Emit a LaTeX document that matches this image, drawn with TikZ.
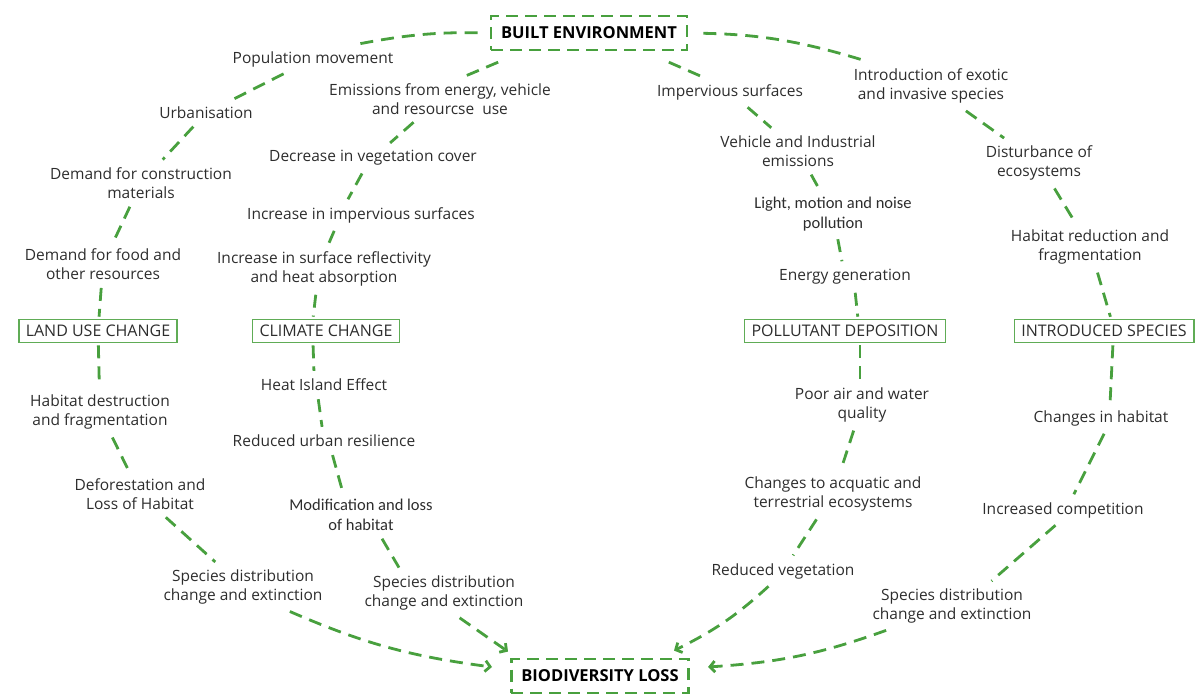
\documentclass[tikz,border=0pt]{standalone}
\usepackage{fontspec}
\setmainfont{Open Sans}
\newfontfamily\calfont{Carlito}
\usetikzlibrary{arrows.meta}
\definecolor{linkgreen}{RGB}{72,160,62}
\definecolor{boxgreen}{RGB}{96,172,86}
\definecolor{txtgray}{RGB}{45,45,45}

\begin{document}
\begin{tikzpicture}[x=1pt, y=-1pt,
  lbl/.style={text=txtgray, align=center, inner xsep=2pt, inner ysep=6pt, font=\fontsize{15.5}{19.5}\selectfont},
  cal/.style={lbl, font=\calfont\fontsize{16.5}{20}\selectfont},
  cat/.style={draw=boxgreen, line width=1.6pt, text=txtgray, inner xsep=7pt, inner ysep=2pt, minimum height=23pt, font=\fontsize{16}{18}\selectfont},
  hub/.style={draw=linkgreen, line width=2.8pt, dash pattern=on 12pt off 7pt, text=black, inner xsep=10pt, minimum height=34pt, font=\bfseries\fontsize{16.5}{18}\selectfont},
  link/.style={draw=linkgreen, line width=2.8pt, dash pattern=on 13pt off 8pt, shorten <=2pt, shorten >=2pt},
  arr/.style={link, shorten >=0pt, -{Straight Barb[length=5pt, width=11pt]}}
]
\useasboundingbox (0,0) rectangle (1200,695);

% Hubs
\node[hub] (be) at (589,33) {BUILT ENVIRONMENT};
\node[hub] (bio) at (600,676) {BIODIVERSITY LOSS};

% Categories
\node[cat] (luc) at (98,331) {LAND USE CHANGE};
\node[cat] (clc) at (326,331) {CLIMATE CHANGE};
\node[cat] (pod) at (845,331) {POLLUTANT DEPOSITION};
\node[cat] (ins) at (1104,331) {INTRODUCED SPECIES};

% Land use chain
\node[lbl] (pop) at (313,59) {Population movement};
\node[lbl] (urb) at (206,113) {Urbanisation};
\node[lbl] (dcm) at (141,183) {Demand for construction\\materials};
\node[lbl] (dfo) at (103,264) {Demand for food and\\other resources};
\node[lbl] (hdf) at (100,412) {Habitat destruction\\and fragmentation};
\node[lbl] (dlh) at (140,494) {Deforestation and\\Loss of Habitat};
\node[lbl] (spl) at (243,587) {Species distribution\\change and extinction};

% Climate chain
\node[lbl] (emi) at (440,99) {Emissions from energy, vehicle\\and resourcse\ \ use};
\node[lbl] (dvc) at (373,158) {Decrease in vegetation cover};
\node[lbl] (iis) at (361,215) {Increase in impervious surfaces};
\node[lbl] (isr) at (324,269) {Increase in surface reflectivity\\and heat absorption};
\node[lbl] (hie) at (324,385) {Heat Island Effect};
\node[lbl] (rur) at (324,441) {Reduced urban resilience};
\node[cal] (mlh) at (361,515) {Modification and loss\\of habitat};
\node[lbl] (spm) at (444,593) {Species distribution\\change and extinction};

% Pollutant chain
\node[lbl] (imp) at (730,92) {Impervious surfaces};
\node[lbl] (vie) at (798,151) {Vehicle and Industrial\\emissions};
\node[cal] (lmn) at (833,214) {Light, motion and noise\\pollution};
\node[lbl] (eng) at (845,277) {Energy generation};
\node[lbl] (paw) at (862,405) {Poor air and water\\quality};
\node[lbl] (cae) at (833,494) {Changes to acquatic and\\terrestrial ecosystems};
\node[lbl] (rve) at (783,571) {Reduced vegetation};

% Introduced species chain
\node[lbl] (iei) at (931,86) {Introduction of exotic\\and invasive species};
\node[lbl] (doe) at (1039,163) {Disturbance of\\ecosystems};
\node[lbl] (hrf) at (1090,247) {Habitat reduction and\\fragmentation};
\node[lbl] (chh) at (1101,418) {Changes in habitat};
\node[lbl] (inc) at (1063,510) {Increased competition};
\node[lbl] (spr) at (952,606) {Species distribution\\change and extinction};

% Land use links
\draw[link, shorten <=12pt] (be.west) to[bend right=6] ([xshift=40pt]pop.north);
\draw[link] (pop) -- (urb);
\draw[link] (urb) -- (dcm);
\draw[link] (dcm) -- (dfo);
\draw[link] (dfo) -- (luc);
\draw[link] (luc) -- (hdf);
\draw[link] (hdf) -- (dlh);
\draw[link] (dlh) -- (spl);
\draw[arr] ([xshift=45pt]spl.south) to[bend right=8] ([xshift=-18pt,yshift=9pt]bio.west);

% Climate links
\draw[link] ([xshift=-89pt,yshift=-10pt]be.south) -- ([xshift=23pt]emi.north);
\draw[link] (emi) -- (dvc);
\draw[link] ([xshift=-10pt]dvc.south) -- ([xshift=-14pt]iis.north);
\draw[link] ([xshift=-26pt]iis.south) -- ([xshift=4pt]isr.north);
\draw[link] ([xshift=-8pt]isr.south) -- ([xshift=-13pt]clc.north);
\draw[link] ([xshift=-13pt]clc.south) -- ([xshift=-10pt]hie.north);
\draw[link] ([xshift=-6pt]hie.south) -- (rur);
\draw[link] ([xshift=8pt]rur.south) -- ([xshift=-18pt]mlh.north);
\draw[link] ([xshift=20pt]mlh.south) -- ([xshift=-44pt]spm.north);
\draw[arr] ([xshift=14pt]spm.south) -- ([xshift=-2pt,yshift=6pt]bio.north west);

% Pollutant links
\draw[link] ([xshift=78pt,yshift=-10pt]be.south) -- ([xshift=-25pt]imp.north);
\draw[link] (imp) -- (vie);
\draw[link] (vie) -- (lmn);
\draw[link] (lmn) -- (eng);
\draw[link] ([xshift=10pt]eng.south) -- ([xshift=13pt]pod.north);
\draw[link] ([xshift=15pt]pod.south) -- ([xshift=-2pt]paw.north);
\draw[link] (paw) -- (cae);
\draw[link] (cae) -- (rve);
\draw[arr] ([xshift=-13pt]rve.south) to[bend left=8] ([xshift=-16pt,yshift=7pt]bio.north east);

% Introduced species links
\draw[link, shorten <=15pt] (be.east) to[bend left=8] ([xshift=-61pt]iei.north);
\draw[link] (iei) -- (doe);
\draw[link] (doe) -- (hrf);
\draw[link] (hrf) -- ([xshift=7pt]ins.north);
\draw[link] ([xshift=9pt]ins.south) -- ([xshift=9pt]chh.north);
\draw[link] ([xshift=4pt]chh.south) -- ([xshift=10pt]inc.north);
\draw[link] ([xshift=-6pt]inc.south) -- ([xshift=38pt]spr.north);
\draw[arr] ([xshift=-64pt]spr.south) to[bend left=8] ([xshift=18pt,yshift=9pt]bio.east);

\end{tikzpicture}
\end{document}
